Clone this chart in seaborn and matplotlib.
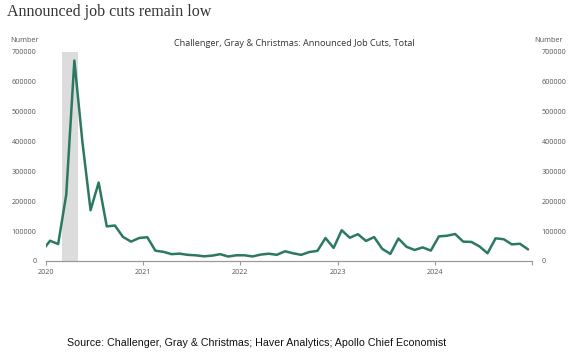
import numpy as np
import pandas as pd
import seaborn as sns
import matplotlib.pyplot as plt

# Monthly announced job cuts, Dec 2019 - Dec 2024
start_month = "2019-12"
job_cuts = [
    33000,
    67700, 56700, 222300, 671100, 397000, 170200, 262600, 115800, 118800, 80700, 64800, 77000,
    79600, 34500, 30600, 22900, 24600, 20500, 18900, 15700, 17900, 22800, 14900, 19100,
    19100, 15200, 21400, 24300, 20700, 32500, 25800, 20500, 30000, 33800, 76800, 43700,
    102900, 77800, 89700, 67000, 80100, 40700, 23700, 75200, 47500, 36800, 45500, 34800,
    82300, 84600, 90300, 64800, 63800, 48800, 25900, 75900, 72800, 55600, 57700, 38800,
]
recession = (2020 + 2 / 12, 2020 + 4 / 12)  # Mar-Apr 2020 shading
year_ticks = [2020, 2021, 2022, 2023, 2024, 2025]
year_labels = ["2020", "2021", "2022", "2023", "2024", ""]
y_ticks = [0, 100000, 200000, 300000, 400000, 500000, 600000, 700000]

months = pd.period_range(start_month, periods=len(job_cuts), freq="M")
df = pd.DataFrame({
    "t": months.year + (months.month - 0.5) / 12,
    "cuts": job_cuts,
})

sns.set_style("white")
plt.rcParams["font.family"] = ["Open Sans", "DejaVu Sans"]

fig = plt.figure(figsize=(5.86, 3.58), dpi=100)
ax = fig.add_axes([0.0785, 0.271, 0.8295, 0.584])

ax.axvspan(recession[0], recession[1], color="#dcdcdc", lw=0, zorder=0)
sns.lineplot(data=df, x="t", y="cuts", color="#2b7863", linewidth=1.8, ax=ax)

ax.set_xlim(2020, 2025)
ax.set_ylim(0, 700000)
ax.set_xticks(year_ticks)
ax.set_xticklabels(year_labels)
ax.set_yticks(y_ticks)
ax.set_yticklabels([str(v) for v in y_ticks])
ax.set_xlabel("")
ax.set_ylabel("")

for s in ["top", "left", "right"]:
    ax.spines[s].set_visible(False)
ax.spines["bottom"].set_color("#9a9a9a")
ax.spines["bottom"].set_linewidth(0.9)

ax.tick_params(axis="x", length=3, width=0.8, color="#9a9a9a", labelsize=5.2,
               labelcolor="#555555", pad=3, bottom=True)
ax.tick_params(axis="y", length=0, labelsize=5.2, labelcolor="#555555",
               labelleft=True, labelright=True, pad=7)

fig.text(0.012, 1 - 12 / 358, "Announced job cuts remain low", family="Liberation Serif",
         fontsize=11.5, color="#333333", va="center", ha="left")
fig.text(10 / 586, 1 - 40 / 358, "Number", fontsize=5.2, color="#555555", va="center", ha="left")
fig.text(534 / 586, 1 - 40 / 358, "Number", fontsize=5.2, color="#555555", va="center", ha="left")
fig.text(294 / 586, 1 - 44 / 358, "Challenger, Gray & Christmas: Announced Job Cuts, Total",
         fontsize=6.6, color="#333333", va="center", ha="center")
fig.text(257 / 586, 1 - 343 / 358,
         "Source: Challenger, Gray & Christmas; Haver Analytics; Apollo Chief Economist",
         family="Liberation Sans", fontsize=7.7, color="#111111", va="center", ha="center")

fig.savefig("out.png", dpi=100)
